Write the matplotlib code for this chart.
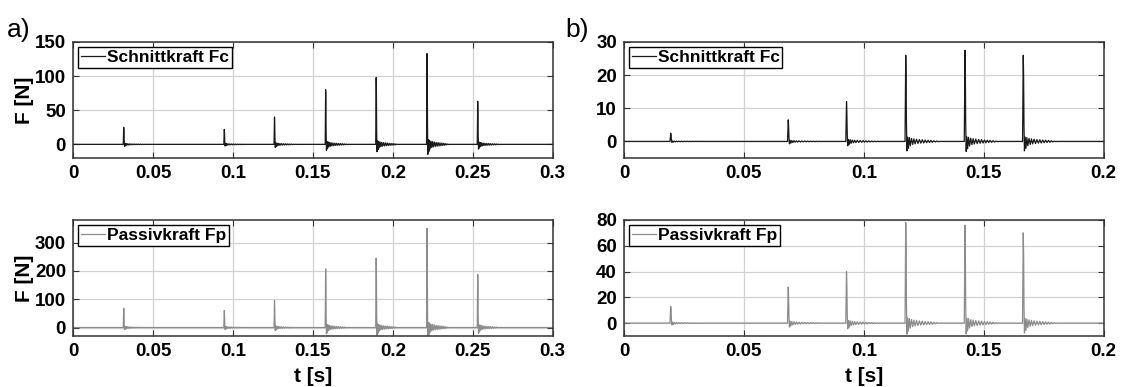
import numpy as np
import matplotlib.pyplot as plt

# spike times [s] and peak forces [N]
t_spk_a = [0.0314, 0.0943, 0.1257, 0.1577, 0.1893, 0.2211, 0.2528]
fc_peak_a = [25, 22, 40, 80, 98, 133, 63]
fp_peak_a = [68, 60, 95, 207, 245, 350, 188]

t_spk_b = [0.0192, 0.0682, 0.0925, 0.1172, 0.1419, 0.1662]
fc_peak_b = [2.5, 6.5, 12, 26, 27.5, 26]
fp_peak_b = [13, 28, 40, 78, 76, 70]

# shape of one cut impulse (time offset in ms, value relative to the peak)
shape_dt_ms = [-0.2, 0.0, 0.15, 0.3, 0.45, 0.6, 0.8, 1.1, 1.4, 1.8, 2.2, 2.7,
               3.2, 3.7, 4.2, 4.8, 5.4, 6.0, 6.6, 7.2, 7.8, 8.4, 9.0, 9.6,
               10.2, 10.8, 11.4, 12.0, 12.6, 13.2, 13.8, 14.4]
shape_rel = [0, 0, 0.45, 1.0, 0.75, 0.2, -0.11, 0.05, -0.08, 0.045, -0.05, 0.035,
             -0.035, 0.03, -0.028, 0.026, -0.024, 0.022, -0.02, 0.02, -0.018, 0.016,
             -0.015, 0.014, -0.012, 0.012, -0.01, 0.008, -0.006, 0.004, -0.002, 0]


def build(t_spk, peaks, tmax):
    t = [0.0]
    y = [0.0]
    for t0, p in zip(t_spk, peaks):
        t += [t0 + d / 1000.0 for d in shape_dt_ms]
        y += [p * r for r in shape_rel]
    t.append(tmax)
    y.append(0.0)
    return np.array(t), np.array(y)


plt.rcParams['font.family'] = ['Liberation Sans', 'DejaVu Sans']
plt.rcParams['font.weight'] = 'bold'

fig = plt.figure(figsize=(11.22, 3.87), dpi=100)

panels = [
    # left, bottom, times, peaks, xmax, xticks, xlabels, ylim, yticks, color, label, ylabel, xlabel
    (0.0651, 0.5917, t_spk_a, fc_peak_a, 0.3, [0, 0.05, 0.1, 0.15, 0.2, 0.25, 0.3],
     ['0', '0.05', '0.1', '0.15', '0.2', '0.25', '0.3'], (-20, 150), [0, 50, 100, 150],
     '#1a1a1a', 'Schnittkraft Fc', True, False),
    (0.0651, 0.1318, t_spk_a, fp_peak_a, 0.3, [0, 0.05, 0.1, 0.15, 0.2, 0.25, 0.3],
     ['0', '0.05', '0.1', '0.15', '0.2', '0.25', '0.3'], (-30, 380), [0, 100, 200, 300],
     '#8c8c8c', 'Passivkraft Fp', True, True),
    (0.5561, 0.5917, t_spk_b, fc_peak_b, 0.2, [0, 0.05, 0.1, 0.15, 0.2],
     ['0', '0.05', '0.1', '0.15', '0.2'], (-5, 30), [0, 10, 20, 30],
     '#1a1a1a', 'Schnittkraft Fc', False, False),
    (0.5561, 0.1318, t_spk_b, fp_peak_b, 0.2, [0, 0.05, 0.1, 0.15, 0.2],
     ['0', '0.05', '0.1', '0.15', '0.2'], (-10, 80), [0, 20, 40, 60, 80],
     '#8c8c8c', 'Passivkraft Fp', False, True),
]

for (left, bottom, ts, pk, xmax, xt, xl, ylim, yt, col, lab, yl, xlab) in panels:
    ax = fig.add_axes([left, bottom, 0.4275, 0.2998])
    t, y = build(ts, pk, xmax)
    ax.plot(t, y, color=col, lw=0.9, label=lab)
    ax.set_xlim(0, xmax)
    ax.set_ylim(*ylim)
    ax.set_xticks(xt)
    ax.set_xticklabels(xl)
    ax.set_yticks(yt)
    ax.grid(True, color='#d2d2d2', lw=0.9)
    ax.set_axisbelow(True)
    ax.tick_params(direction='in', length=4, width=0.8, top=True, right=True,
                   labelsize=13.5, pad=5, colors='#333333', labelcolor='black')
    for s in ax.spines.values():
        s.set_color('#333333')
        s.set_linewidth(1.1)
    leg = ax.legend(loc='upper left', fontsize=12.5, handlelength=1.4,
                    handletextpad=0.1, borderpad=0.15, borderaxespad=0.3,
                    fancybox=False, framealpha=1, edgecolor='black')
    leg.get_frame().set_linewidth(1.0)
    if yl:
        ax.set_ylabel('F [N]', fontsize=15, fontweight='bold', labelpad=1)
    if xlab:
        ax.set_xlabel('t [s]', fontsize=15, fontweight='bold', labelpad=5)

fig.text(0.006, 0.905, 'a)', fontsize=19, fontweight='normal')
fig.text(0.504, 0.905, 'b)', fontsize=19, fontweight='normal')

fig.savefig('out.png', dpi=100)
